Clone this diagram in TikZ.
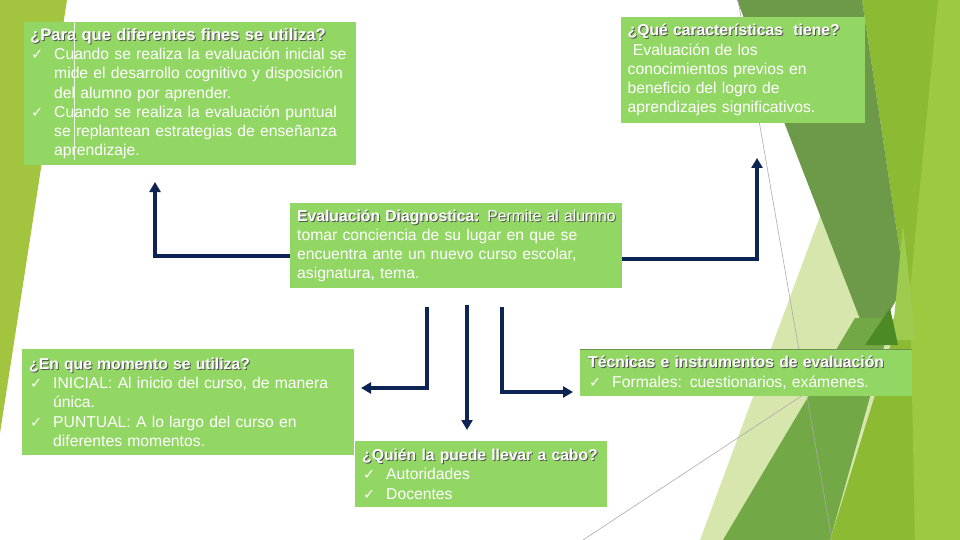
\documentclass[tikz,border=0pt]{standalone}
\usepackage{fontspec}
\setmainfont{Liberation Sans}
\newfontfamily\simbolos{DejaVu Sans}
\usetikzlibrary{arrows.meta}
\setlength\parindent{0pt}

\definecolor{verdecaja}{RGB}{146,214,100}
\definecolor{marino}{RGB}{14,36,84}
\definecolor{sombragris}{RGB}{85,85,85}
\definecolor{fondoamarillo}{RGB}{140,186,51}
\definecolor{fondoclaro}{RGB}{156,201,64}
\definecolor{fondopalido}{RGB}{214,230,172}
\definecolor{fondooliva}{RGB}{108,154,72}
\definecolor{fondomedio}{RGB}{114,168,69}
\definecolor{fondooscuro}{RGB}{76,138,37}
\definecolor{fondoluz}{RGB}{158,202,78}
\definecolor{fondoizq}{RGB}{162,196,63}
\definecolor{bordecaja}{RGB}{110,143,80}

\newlength\sangria
\setlength\sangria{24pt}
\newcommand\titulo[2][]{\mbox{\rlap{\kern1pt\raisebox{-1pt}{\color{sombragris}\textbf{#2}#1}}\textbf{#2}#1}}
\newcommand\renglon[1]{\mbox{#1}\par}
\newcommand\vinieta[1]{\mbox{\makebox[\sangria][l]{\kern1pt\simbolos\fontsize{14.5}{15}\selectfont ✓}#1}\par}
\newcommand\sigue[1]{\mbox{\hspace*{\sangria}#1}\par}

\tikzset{
  caja/.style={fill=verdecaja, text=white, anchor=north west, inner xsep=6pt, inner ysep=0pt,
    align=left, font=\fontsize{15.7}{19.2}\selectfont},
  flecha/.style={draw=marino, line width=3.5pt, -{Triangle[width=11pt,length=10pt]}},
  lineafina/.style={draw=black!33, line width=0.6pt},
}

\begin{document}
\begin{tikzpicture}[x=1pt,y=-1pt]
  \useasboundingbox (0,0) rectangle (960,540);
  \fill[white] (0,0) rectangle (960,540);

  \fill[fondoamarillo] (862,0) -- (960,0) -- (960,540) -- (818,540) -- (905,285) -- cycle;
  \fill[fondoclaro] (938,0) -- (960,0) -- (960,540) -- (915,540) -- (910,290) -- cycle;
  \fill[fondopalido] (826,200) -- (700,540) -- (830,540) -- (895,330) -- cycle;
  \fill[fondooliva] (737,0) -- (862,0) -- (905,285) -- (870,345) -- cycle;
  \fill[fondoluz] (903,225) -- (916,340) -- (892,340) -- cycle;
  \fill[fondomedio] (723,540) -- (855,318) -- (892,318) -- (830,540) -- cycle;
  \fill[fondooscuro] (865,345) -- (890,308) -- (898,345) -- cycle;
  \draw[lineafina] (738,0) -- (832,540);
  \draw[lineafina] (583,540) -- (850,364);
  \fill[fondoizq] (0,0) -- (67,0) -- (0,433) -- cycle;

  \node[caja, text width=320pt, minimum height=143pt] (fines) at (24,22) {%
    \renglon{\fontsize{16.6}{19.2}\selectfont\titulo{¿Para que diferentes fines se utiliza?}}
    \vinieta{Cuando se realiza la evaluación inicial se}
    \sigue{mide el desarrollo cognitivo y disposición}
    \sigue{del alumno por aprender.}
    \vinieta{Cuando se realiza la evaluación puntual}
    \sigue{se replantean estrategias de enseñanza}
    \sigue{aprendizaje.}};
  \draw[white!80!verdecaja, line width=0.8pt] (74,22) -- (74,160);

  \node[caja, text width=231pt, minimum height=106pt, inner xsep=6.5pt] (caracteristicas) at (621,17) {%
    \renglon{\titulo{¿Qué características\ \ tiene?}}
    \renglon{\ Evaluación de los}
    \renglon{conocimientos previos en}
    \renglon{beneficio del logro de}
    \renglon{aprendizajes significativos.}};

  \node[caja, text width=318pt, minimum height=85pt, inner xsep=7pt] (diagnostica) at (290,203) {%
    \renglon{\titulo[ Permite al alumno]{Evaluación Diagnostica:}}
    \renglon{tomar conciencia de su lugar en que se}
    \renglon{encuentra ante un nuevo curso escolar,}
    \renglon{asignatura, tema.}};

  \node[caja, text width=318pt, minimum height=106pt, inner xsep=7pt] (momento) at (22,349) {%
    \renglon{\titulo{¿En que momento se utiliza?}}
    \vinieta{INICIAL: Al inicio del curso, de manera}
    \sigue{única.}
    \vinieta{PUNTUAL: A lo largo del curso en}
    \sigue{diferentes momentos.}};

  \node[caja, text width=238pt, minimum height=66pt, inner xsep=7pt] (quien) at (355,441) {%
    \renglon{\titulo{¿Quién la puede llevar a cabo?}}
    \vinieta{Autoridades}
    \vinieta{Docentes}};

  \node[caja, text width=316pt, minimum height=47pt, inner xsep=8pt] (tecnicas) at (580,349) {%
    \renglon{\titulo{Técnicas e instrumentos de evaluación}}
    \vinieta{Formales: cuestionarios, exámenes.}};
  \draw[bordecaja, line width=1pt] (tecnicas.north west) -- (tecnicas.north east);

  \coordinate (fin-fines) at (155,182);
  \coordinate (fin-caracteristicas) at (757,158);
  \coordinate (ini-momento) at (427,307);
  \coordinate (fin-momento) at (361,388);
  \coordinate (ini-quien) at (467,305);
  \coordinate (fin-quien) at (467,430);
  \coordinate (ini-tecnicas) at (502,307);
  \coordinate (fin-tecnicas) at (573,392);

  \draw[flecha] ([yshift=-10.5pt]diagnostica.west) -| (fin-fines);
  \draw[flecha] ([yshift=-13.5pt]diagnostica.east) -| (fin-caracteristicas);
  \draw[flecha] (ini-momento) |- (fin-momento);
  \draw[flecha] (ini-quien) -- (fin-quien);
  \draw[flecha] (ini-tecnicas) |- (fin-tecnicas);
\end{tikzpicture}
\end{document}
